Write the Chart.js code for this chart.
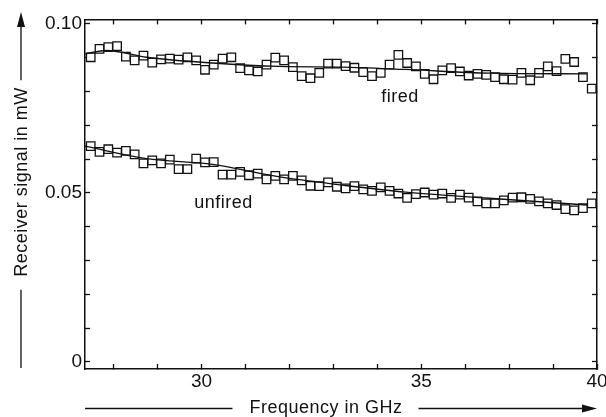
<!DOCTYPE html>
<html>
<head>
<meta charset="utf-8">
<title>Receiver signal vs frequency</title>
<script src="https://cdn.jsdelivr.net/npm/chart.js@4.4.1/dist/chart.umd.min.js"></script>
<style>
  html, body { margin: 0; padding: 0; background: #fff; }
  #wrap { width: 606px; height: 417px; position: relative; }
</style>
</head>
<body>
<div id="wrap"><canvas id="chart"></canvas></div>
<script>
// x of each measured point, in axis divisions (the printed axis puts 30 and 35
// five divisions apart, and 40 only four divisions after 35)
const freq = [27.48, 27.68, 27.88, 28.08, 28.28, 28.48, 28.68, 28.88, 29.08, 29.28,
  29.48, 29.68, 29.88, 30.08, 30.28, 30.48, 30.68, 30.88, 31.08, 31.28,
  31.48, 31.68, 31.88, 32.08, 32.28, 32.48, 32.68, 32.88, 33.08, 33.28,
  33.48, 33.68, 33.88, 34.08, 34.28, 34.48, 34.68, 34.88, 35.08, 35.28,
  35.48, 35.68, 35.88, 36.08, 36.28, 36.48, 36.68, 36.88, 37.08, 37.28,
  37.48, 37.68, 37.88, 38.08, 38.28, 38.48, 38.68, 38.88];

// receiver signal in mW
const fired = [0.0901, 0.0926, 0.0931, 0.0934, 0.0903, 0.0892, 0.0906, 0.0885, 0.0895, 0.0897,
  0.0894, 0.0901, 0.0892, 0.0864, 0.0879, 0.0897, 0.0901, 0.0869, 0.0862, 0.0859,
  0.0879, 0.0900, 0.0892, 0.0872, 0.0845, 0.0839, 0.0855, 0.0882, 0.0882, 0.0875,
  0.0870, 0.0857, 0.0845, 0.0855, 0.0879, 0.0908, 0.0884, 0.0874, 0.0852, 0.0836,
  0.0862, 0.0869, 0.0859, 0.0847, 0.0852, 0.0849, 0.0842, 0.0836, 0.0835, 0.0855,
  0.0833, 0.0855, 0.0874, 0.0860, 0.0896, 0.0887, 0.0842, 0.0808];

const unfired = [0.0638, 0.0621, 0.0629, 0.0619, 0.0624, 0.0614, 0.0587, 0.0596, 0.0587, 0.0598,
  0.0570, 0.0570, 0.0601, 0.0590, 0.0591, 0.0554, 0.0554, 0.0562, 0.0552, 0.0557,
  0.0540, 0.0550, 0.0540, 0.0550, 0.0537, 0.0521, 0.0520, 0.0531, 0.0518, 0.0513,
  0.0520, 0.0510, 0.0506, 0.0516, 0.0506, 0.0498, 0.0485, 0.0496, 0.0501, 0.0495,
  0.0498, 0.0485, 0.0495, 0.0486, 0.0475, 0.0469, 0.0469, 0.0478, 0.0486, 0.0487,
  0.0482, 0.0475, 0.0469, 0.0464, 0.0452, 0.0448, 0.0455, 0.0469];

// fitted curves
const firedFitX = [27.35, 27.84, 28.75, 30.25, 31.78, 33.2, 34.65, 36.55, 38.77];
const firedFitY = [0.0911, 0.0921, 0.0901, 0.0884, 0.0874, 0.0872, 0.0865, 0.0854, 0.0852];
const unfiredFitX = [27.35, 28.75, 30.25, 31.78, 33.2, 34.65, 36.55, 38.77];
const unfiredFitY = [0.0638, 0.0601, 0.0584, 0.0547, 0.0523, 0.0502, 0.0484, 0.0464];

const xTickValues = [28, 29, 30, 31, 32, 33, 34, 35, 36, 37, 38, 39];
const xTickLabels = ['', '', '30', '', '', '', '', '35', '', '', '', '40'];
const yTickValues = [0, 0.01, 0.02, 0.03, 0.04, 0.05, 0.06, 0.07, 0.08, 0.09, 0.1];
const yTickLabels = ['0', '', '', '', '', '0.05', '', '', '', '', '0.10'];

const curveNames = ['fired', 'unfired'];
const curveNameX = [34.52, 30.5];
const curveNameY = [0.0782, 0.0469];

const FONT = '"Liberation Sans", Arial, Helvetica, sans-serif';
const INK = '#111';

Chart.defaults.font.family = FONT;
Chart.defaults.font.size = 19;
Chart.defaults.color = INK;

function pts(xs, ys) {
  return xs.map((x, i) => ({ x: x, y: ys[i] }));
}

// frame side: same range as the main axes, inward ticks, no labels
function mirrorAxis(base, pos, values) {
  return Object.assign({}, base, {
    position: pos,
    afterBuildTicks: s => { s.ticks = values.map(v => ({ value: v })); },
    afterFit: s => { if (pos === 'top') s.height = 0; else s.width = 0; },
    ticks: { display: false },
    grid: { drawOnChartArea: false, tickLength: -5, tickColor: INK, tickWidth: 1.3 },
    border: { color: INK, width: 1.5 }
  });
}

function arrowHead(ctx, x, y, dx, dy) {
  // filled triangle pointing along (dx, dy)
  const len = 15, half = 4;
  ctx.beginPath();
  ctx.moveTo(x, y);
  ctx.lineTo(x - dx * len - dy * half, y - dy * len + dx * half);
  ctx.lineTo(x - dx * len + dy * half, y - dy * len - dx * half);
  ctx.closePath();
  ctx.fill();
}

const titles = {
  id: 'titles',
  afterDraw(chart) {
    const ctx = chart.ctx;
    const area = chart.chartArea;
    const xs = chart.scales.x, ys = chart.scales.y;
    ctx.save();
    ctx.fillStyle = INK;
    ctx.strokeStyle = INK;
    ctx.lineWidth = 1.3;
    ctx.font = '18px ' + FONT;
    ctx.letterSpacing = '0.5px';

    // curve names
    ctx.textAlign = 'center';
    ctx.textBaseline = 'middle';
    curveNames.forEach((n, i) => {
      ctx.fillText(n, xs.getPixelForValue(curveNameX[i]), ys.getPixelForValue(curveNameY[i]));
    });

    // x title with arrow
    ctx.textBaseline = 'alphabetic';
    const xt = 'Frequency in GHz';
    const xw = ctx.measureText(xt).width;
    const cx = 326, by = 412.5, ly = 408.5;
    ctx.fillText(xt, cx, by);
    ctx.beginPath();
    ctx.moveTo(area.left, ly); ctx.lineTo(cx - xw / 2 - 17, ly);
    ctx.moveTo(cx + xw / 2 + 16, ly); ctx.lineTo(area.right - 8, ly);
    ctx.stroke();
    arrowHead(ctx, area.right, ly, 1, 0);

    // y title with arrow
    const yt = 'Receiver signal in mW';
    const yw = ctx.measureText(yt).width;
    const cy = 182, lx = 21;
    ctx.save();
    ctx.translate(26.5, cy);
    ctx.rotate(-Math.PI / 2);
    ctx.fillText(yt, 0, 0);
    ctx.restore();
    ctx.beginPath();
    ctx.moveTo(lx, area.bottom - 1); ctx.lineTo(lx, cy + yw / 2 + 13);
    ctx.moveTo(lx, cy - yw / 2 - 7); ctx.lineTo(lx, 20);
    ctx.stroke();
    arrowHead(ctx, lx, 12, 0, -1);
    ctx.restore();
  }
};

const xAxis = {
  type: 'linear', min: 27.35, max: 39
};
const yAxis = {
  type: 'linear', min: -0.0021, max: 0.1013
};

new Chart(document.getElementById('chart'), {
  type: 'scatter',
  data: {
    datasets: [
      {
        label: 'fired fit', data: pts(firedFitX, firedFitY), showLine: true,
        pointRadius: 0, borderColor: INK, borderWidth: 1.3, cubicInterpolationMode: 'monotone'
      },
      {
        label: 'unfired fit', data: pts(unfiredFitX, unfiredFitY), showLine: true,
        pointRadius: 0, borderColor: INK, borderWidth: 1.3, cubicInterpolationMode: 'monotone'
      },
      {
        label: 'fired', data: pts(freq, fired), pointStyle: 'rect', pointRadius: 6,
        pointBorderWidth: 1.3, pointBorderColor: INK, pointBackgroundColor: '#fff'
      },
      {
        label: 'unfired', data: pts(freq, unfired), pointStyle: 'rect', pointRadius: 6,
        pointBorderWidth: 1.3, pointBorderColor: INK, pointBackgroundColor: '#fff'
      }
    ]
  },
  options: {
    responsive: true,
    maintainAspectRatio: false,
    animation: false,
    events: [],
    layout: { padding: { left: 0, right: 9, top: 19, bottom: 0 } },
    plugins: { legend: { display: false }, tooltip: { enabled: false } },
    scales: {
      x: Object.assign({}, xAxis, {
        position: 'bottom',
        afterBuildTicks: s => { s.ticks = xTickValues.map(v => ({ value: v })); },
        // fixed height, and let the "40" label hang past the frame
        afterFit: s => { s.height = 48; s.paddingLeft = 0; s.paddingRight = 0; },
        ticks: {
          autoSkip: false, maxRotation: 0, padding: 6, color: INK,
          callback: (v, i) => xTickLabels[i]
        },
        grid: { drawOnChartArea: false, tickLength: -5, tickColor: INK, tickWidth: 1.3 },
        border: { color: INK, width: 1.5 }
      }),
      y: Object.assign({}, yAxis, {
        position: 'left',
        afterBuildTicks: s => { s.ticks = yTickValues.map(v => ({ value: v })); },
        afterFit: s => { s.width = 85; },
        ticks: {
          autoSkip: false, padding: 8, color: INK,
          callback: (v, i) => yTickLabels[i]
        },
        grid: { drawOnChartArea: false, tickLength: -5, tickColor: INK, tickWidth: 1.3 },
        border: { color: INK, width: 1.5 }
      }),
      x2: mirrorAxis(xAxis, 'top', xTickValues),
      y2: mirrorAxis(yAxis, 'right', yTickValues)
    }
  },
  plugins: [titles]
});
</script>
</body>
</html>
